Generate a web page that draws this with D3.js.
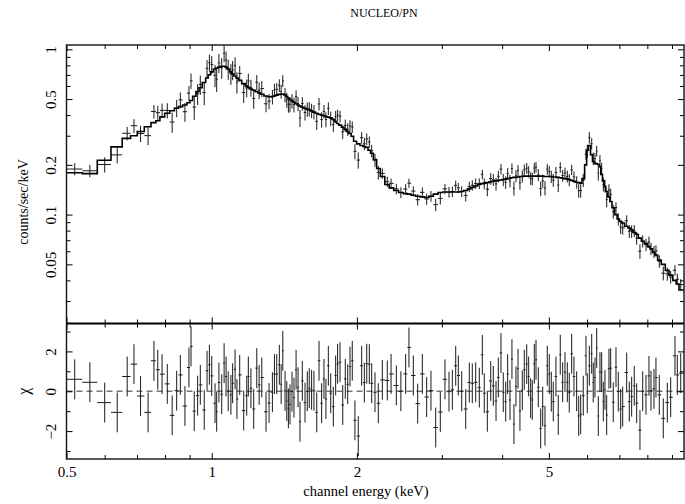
<!DOCTYPE html>
<html>
<head>
<meta charset="UTF-8">
<title>NUCLEO/PN</title>
<script src="https://d3js.org/d3.v7.min.js"></script>
<style>
  body { margin: 0; background: #fff; }
  svg text { font-family: "Liberation Serif", "Times New Roman", serif; fill: #000; }
</style>
</head>
<body>
<script>
// bin centres (keV)
const energy = [
  0.520, 0.559, 0.600, 0.637, 0.668, 0.690, 0.712, 0.738, 0.759, 0.773,
  0.789, 0.809, 0.828, 0.846, 0.861, 0.880, 0.897, 0.906, 0.920, 0.935,
  0.947, 0.965, 0.978, 0.989, 1.000, 1.016, 1.024, 1.035, 1.049, 1.061,
  1.071, 1.082, 1.096, 1.105, 1.118, 1.128, 1.143, 1.165, 1.182, 1.191,
  1.206, 1.222, 1.240, 1.254, 1.270, 1.296, 1.315, 1.336, 1.349, 1.364,
  1.381, 1.393, 1.404, 1.419, 1.431, 1.442, 1.453, 1.467, 1.481, 1.496,
  1.510, 1.524, 1.541, 1.561, 1.578, 1.593, 1.611, 1.629, 1.651, 1.669,
  1.690, 1.709, 1.725, 1.745, 1.765, 1.787, 1.807, 1.824, 1.845, 1.869,
  1.892, 1.914, 1.935, 1.956, 1.981, 2.013, 2.046, 2.072, 2.096, 2.122,
  2.146, 2.180, 2.215, 2.258, 2.312, 2.354, 2.414, 2.467, 2.524, 2.564,
  2.618, 2.673, 2.733, 2.790, 2.848, 2.913, 2.978, 3.045, 3.104, 3.154,
  3.205, 3.245, 3.298, 3.362, 3.420, 3.469, 3.526, 3.587, 3.639, 3.673,
  3.727, 3.788, 3.835, 3.885, 3.928, 3.978, 4.022, 4.069, 4.107, 4.153,
  4.192, 4.232, 4.273, 4.315, 4.355, 4.404, 4.446, 4.498, 4.540, 4.584,
  4.619, 4.664, 4.702, 4.754, 4.808, 4.855, 4.908, 4.962, 5.009, 5.058,
  5.106, 5.172, 5.229, 5.279, 5.340, 5.400, 5.460, 5.511, 5.575, 5.636,
  5.709, 5.765, 5.820, 5.892, 5.969, 6.006, 6.065, 6.134, 6.180, 6.231,
  6.282, 6.330, 6.381, 6.433, 6.483, 6.535, 6.588, 6.661, 6.715, 6.799,
  6.888, 6.964, 7.044, 7.112, 7.249, 7.340, 7.423, 7.516, 7.603, 7.723,
  7.825, 7.949, 8.063, 8.141, 8.258, 8.336, 8.470, 8.633, 8.800, 8.943,
  9.128, 9.230, 9.382
];

// folded model (counts/sec/keV)
const model = [
  0.179, 0.177, 0.213, 0.257, 0.289, 0.300, 0.318, 0.340, 0.360, 0.370,
  0.390, 0.410, 0.425, 0.440, 0.450, 0.460, 0.475, 0.490, 0.520, 0.555,
  0.585, 0.630, 0.670, 0.700, 0.730, 0.760, 0.770, 0.780, 0.790, 0.790,
  0.780, 0.760, 0.730, 0.710, 0.690, 0.670, 0.650, 0.620, 0.600, 0.590,
  0.575, 0.565, 0.555, 0.545, 0.535, 0.522, 0.516, 0.518, 0.522, 0.528,
  0.534, 0.537, 0.536, 0.530, 0.520, 0.508, 0.498, 0.488, 0.478, 0.468,
  0.460, 0.453, 0.446, 0.440, 0.434, 0.429, 0.423, 0.417, 0.410, 0.405,
  0.400, 0.396, 0.392, 0.389, 0.385, 0.376, 0.365, 0.356, 0.348, 0.338,
  0.328, 0.318, 0.310, 0.298, 0.278, 0.268, 0.262, 0.258, 0.255, 0.245,
  0.235, 0.215, 0.190, 0.170, 0.152, 0.145, 0.140, 0.136, 0.134, 0.133,
  0.131, 0.129, 0.128, 0.127, 0.129, 0.133, 0.136, 0.137, 0.137, 0.137,
  0.137, 0.137, 0.138, 0.140, 0.143, 0.146, 0.149, 0.152, 0.154, 0.155,
  0.156, 0.158, 0.159, 0.160, 0.161, 0.162, 0.163, 0.164, 0.165, 0.166,
  0.167, 0.168, 0.168, 0.169, 0.170, 0.170, 0.171, 0.171, 0.171, 0.171,
  0.171, 0.171, 0.171, 0.171, 0.171, 0.171, 0.170, 0.170, 0.170, 0.170,
  0.169, 0.169, 0.168, 0.167, 0.166, 0.165, 0.164, 0.163, 0.161, 0.159,
  0.157, 0.156, 0.155, 0.165, 0.200, 0.245, 0.262, 0.230, 0.210, 0.205,
  0.203, 0.201, 0.195, 0.175, 0.160, 0.148, 0.138, 0.128, 0.120, 0.110,
  0.100, 0.094, 0.091, 0.089, 0.085, 0.083, 0.081, 0.078, 0.076, 0.072,
  0.069, 0.0667, 0.064, 0.062, 0.059, 0.057, 0.053, 0.050, 0.046, 0.043,
  0.040, 0.038, 0.035
];

// residuals (chi)
const chi = [
  0.60, 0.45, -0.57, -1.06, 0.74, 1.36, -0.24, -1.06, 1.53, 1.08,
  0.86, 0.37, -1.21, 0.03, 0.82, -0.74, 1.19, 2.25, -1.00, -0.22,
  0.32, -0.94, 1.03, 1.33, 0.77, -0.60, -1.03, 0.44, -0.15, 1.41,
  0.74, 0.00, -0.18, 0.40, 1.10, -0.39, 0.82, -0.97, -0.22, 0.74,
  0.15, -0.89, 1.16, 0.32, 0.69, -1.03, -0.59, -0.05, 0.86, 0.86,
  1.33, 0.35, 2.03, 0.02, -0.49, -0.86, -0.66, -0.02, -0.32, 1.08,
  0.20, -1.53, 0.52, -0.57, 0.00, 0.15, 0.07, 0.02, -1.06, 1.53,
  -0.60, 0.62, -0.39, 1.28, -0.10, -0.77, 0.79, 1.38, 1.46, -0.69,
  0.62, 0.35, 1.24, 1.53, -1.46, -2.25, 1.28, 0.44, 1.38, 1.36,
  0.40, -0.05, -0.60, 0.57, 0.54, 0.87, 0.29, 0.00, 0.87, 2.20,
  0.79, -0.62, 0.87, -0.29, 0.03, -1.82, -1.04, 0.60, -0.02, 0.07,
  1.28, 0.79, 0.00, -0.89, 0.44, 0.40, 0.45, 0.18, 1.83, -0.10,
  -1.03, 0.52, 0.27, -0.49, 0.69, 1.92, -0.05, -0.52, 0.86, -0.44,
  1.61, -1.65, 0.24, 1.13, -0.99, 0.05, 1.08, 1.36, 0.74, -0.35,
  -0.44, 1.38, 1.58, 0.20, -1.87, -0.77, -1.73, 1.28, 0.86, -0.02,
  -0.52, 0.74, -1.19, 1.83, 0.45, 0.96, 0.45, -0.07, 1.88, 0.74,
  0.00, -1.24, -1.16, -0.22, 1.78, -0.10, 1.28, 1.88, 0.44, 0.69,
  2.17, -1.24, 0.96, 0.96, -0.52, 0.07, -1.19, 1.13, 1.16, -0.55,
  1.21, -0.02, -0.89, -0.77, 0.94, -0.52, -0.27, 0.27, -0.60, -1.95,
  0.00, -0.18, 0.77, 0.03, 0.12, 0.69, -0.18, -1.36, -0.57, -0.30,
  1.78, 0.82, 0.91
];

// 1-sigma error as a fraction of the rate
const errFrac = [
  .09, .09, .10, .10, .10, .11, .11, .11, .11, .11,
  .11, .11, .12, .12, .12, .12, .12, .14, .14, .14,
  .14, .14, .14, .14, .14, .14, .14, .14, .14, .14,
  .14, .14, .14, .14, .14, .14, .12, .12, .12, .12,
  .12, .12, .12, .12, .12, .10, .10, .10, .10, .10,
  .10, .10, .10, .10, .10, .10, .10, .10, .10, .10,
  .10, .10, .10, .10, .10, .10, .10, .10, .10, .10,
  .10, .10, .10, .10, .10, .09, .09, .09, .09, .09,
  .09, .09, .09, .09, .09, .09, .09, .09, .09, .09,
  .09, .09, .09, .075, .075, .075, .075, .075, .075, .075,
  .075, .075, .075, .075, .075, .075, .075, .075, .075, .075,
  .075, .075, .075, .075, .075, .075, .075, .075, .075, .075,
  .085, .085, .085, .085, .085, .085, .085, .085, .085, .085,
  .085, .085, .085, .085, .085, .085, .085, .085, .085, .085,
  .085, .085, .085, .085, .085, .085, .085, .085, .085, .085,
  .085, .085, .085, .085, .085, .085, .085, .085, .085, .085,
  .085, .085, .085, .09, .09, .09, .09, .09, .09, .09,
  .09, .09, .09, .09, .09, .09, .09, .09, .09, .09,
  .085, .085, .085, .085, .085, .085, .085, .085, .085, .085,
  .085, .085, .085, .085, .085, .085, .085, .085, .085, .085,
  .085, .085, .085
];

// tick values
const xMajor = [0.5, 1, 2, 5];
const xMinor = [0.6, 0.7, 0.8, 0.9, 3, 4, 6, 7, 8, 9];
const rateMajor = [0.05, 0.1, 0.2, 0.5, 1];
const rateMinor = [0.03, 0.04, 0.06, 0.07, 0.08, 0.09, 0.3, 0.4, 0.6, 0.7, 0.8, 0.9];
const chiMajor = [-2, 0, 2];
const chiMinor = [-3, -1, 1, 3];

const width = 685, height = 504;
const plotL = 66.5, plotR = 684, plotT = 45, plotM = 323.5, plotB = 459;
const majorLen = 6, minorLen = 4;

const svg = d3.select("body").append("svg")
  .attr("width", width)
  .attr("height", height);

const x = d3.scaleLog().domain([0.5, 9.53]).range([plotL, plotR]);
const yRate = d3.scaleLog().domain([0.02193, 1.062]).range([plotM, plotT]);
const yChi = d3.scaleLinear().domain([-3.4, 3.4]).range([plotB, plotM]);

// bin edges halfway (in log) between neighbouring centres
const edges = [0.5];
for (let i = 1; i < energy.length; i++) edges.push(Math.sqrt(energy[i - 1] * energy[i]));
edges.push(9.53);

const bins = energy.map(function (e, i) {
  const sig = model[i] * errFrac[i];
  return { e: e, lo: edges[i], hi: edges[i + 1], m: model[i], chi: chi[i], rate: model[i] + chi[i] * sig, sig: sig };
});

// clip regions
const defs = svg.append("defs");
defs.append("clipPath").attr("id", "clipTop").append("rect")
  .attr("x", plotL).attr("y", plotT).attr("width", plotR - plotL).attr("height", plotM - plotT);
defs.append("clipPath").attr("id", "clipBot").append("rect")
  .attr("x", plotL).attr("y", plotM).attr("width", plotR - plotL).attr("height", plotB - plotM);

// ---- top panel: data crosses + model
const gTop = svg.append("g").attr("clip-path", "url(#clipTop)");

let p = d3.path();
bins.forEach(function (d) {
  const yy = yRate(d.rate);
  p.moveTo(x(d.lo), yy); p.lineTo(x(d.hi), yy);
  p.moveTo(x(d.e), yRate(d.rate - d.sig)); p.lineTo(x(d.e), yRate(d.rate + d.sig));
});
gTop.append("path").attr("d", p.toString())
  .attr("fill", "none").attr("stroke", "#1a1a1a").attr("stroke-width", 1);

const step = d3.line().curve(d3.curveStepAfter);
const stepPts = bins.map(function (d) { return [x(d.lo), yRate(d.m)]; });
stepPts.push([x(bins[bins.length - 1].hi), yRate(bins[bins.length - 1].m)]);
gTop.append("path").attr("d", step(stepPts))
  .attr("fill", "none").attr("stroke", "#000").attr("stroke-width", 1.6);

// ---- bottom panel: residuals
const gBot = svg.append("g").attr("clip-path", "url(#clipBot)");

gBot.append("line")
  .attr("x1", plotL).attr("x2", plotR)
  .attr("y1", yChi(0)).attr("y2", yChi(0))
  .attr("stroke", "#777").attr("stroke-width", 1.5)
  .attr("stroke-dasharray", "6,4");

p = d3.path();
bins.forEach(function (d) {
  const yy = yChi(d.chi);
  p.moveTo(x(d.lo), yy); p.lineTo(x(d.hi), yy);
  p.moveTo(x(d.e), yChi(d.chi - 1)); p.lineTo(x(d.e), yChi(d.chi + 1));
});
gBot.append("path").attr("d", p.toString())
  .attr("fill", "none").attr("stroke", "#1a1a1a").attr("stroke-width", 1);

// ---- ticks (all pointing inward)
function tickRow(axis, vals, len, tx, ty) {
  svg.append("g")
    .attr("transform", "translate(" + tx + "," + ty + ")")
    .attr("color", "#000")
    .call(axis.tickValues(vals).tickSize(-len).tickFormat(""))
    .call(function (g) { g.select(".domain").remove(); });
}

// x ticks on the four horizontal edges
[[d3.axisTop, plotT], [d3.axisBottom, plotM], [d3.axisTop, plotM], [d3.axisBottom, plotB]].forEach(function (a) {
  tickRow(a[0](x), xMajor, majorLen, 0, a[1]);
  tickRow(a[0](x), xMinor, minorLen, 0, a[1]);
});

// y ticks, top panel
tickRow(d3.axisLeft(yRate), rateMajor, majorLen, plotL, 0);
tickRow(d3.axisLeft(yRate), rateMinor, minorLen, plotL, 0);
tickRow(d3.axisRight(yRate), rateMajor, majorLen, plotR, 0);
tickRow(d3.axisRight(yRate), rateMinor, minorLen, plotR, 0);

// y ticks, residual panel
tickRow(d3.axisLeft(yChi), chiMajor, majorLen, plotL, 0);
tickRow(d3.axisLeft(yChi), chiMinor, minorLen, plotL, 0);
tickRow(d3.axisRight(yChi), chiMajor, majorLen, plotR, 0);
tickRow(d3.axisRight(yChi), chiMinor, minorLen, plotR, 0);

// frames
svg.append("rect")
  .attr("x", plotL).attr("y", plotT).attr("width", plotR - plotL).attr("height", plotB - plotT)
  .attr("fill", "none").attr("stroke", "#111").attr("stroke-width", 1.4);
svg.append("line")
  .attr("x1", plotL).attr("x2", plotR).attr("y1", plotM).attr("y2", plotM)
  .attr("stroke", "#000").attr("stroke-width", 2);

// ---- tick labels
svg.append("g")
  .attr("transform", "translate(0," + plotB + ")")
  .call(d3.axisBottom(x).tickValues(xMajor).tickSize(0).tickPadding(7)
    .tickFormat(function (d) { return String(d); }))
  .call(function (g) { g.select(".domain").remove(); })
  .attr("font-family", null)
  .attr("font-size", 15);

function rotatedLabels(scale, vals, fmt) {
  svg.append("g")
    .attr("transform", "translate(" + plotL + ",0)")
    .call(d3.axisLeft(scale).tickValues(vals).tickSize(0).tickFormat(fmt))
    .call(function (g) { g.select(".domain").remove(); })
    .attr("font-family", null)
    .attr("font-size", 15)
    .selectAll("text")
    .attr("x", 0).attr("y", -10.5).attr("dy", 0)
    .attr("text-anchor", "middle")
    .attr("transform", "rotate(-90)");
}
rotatedLabels(yRate, rateMajor, function (d) { return String(d); });
rotatedLabels(yChi, chiMajor, function (d) { return d < 0 ? "\u2212" + Math.abs(d) : String(d); });

// ---- titles
svg.append("text")
  .attr("x", 384).attr("y", 17)
  .attr("text-anchor", "middle")
  .attr("font-size", 12)
  .text("NUCLEO/PN");

svg.append("text")
  .attr("x", 366).attr("y", 496)
  .attr("text-anchor", "middle")
  .attr("font-size", 14.5)
  .text("channel energy (keV)");

svg.append("text")
  .attr("transform", "translate(28,202) rotate(-90)")
  .attr("text-anchor", "middle")
  .attr("font-size", 14)
  .text("counts/sec/keV");

svg.append("text")
  .attr("transform", "translate(29," + yChi(0) + ") rotate(-90)")
  .attr("text-anchor", "middle")
  .attr("font-size", 16)
  .text("\u03c7");
</script>
</body>
</html>
